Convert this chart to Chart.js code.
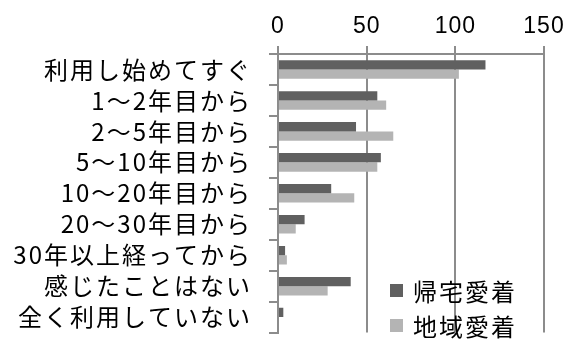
<!DOCTYPE html>
<html lang="ja">
<head>
<meta charset="utf-8">
<title>愛着を感じ始めた時期</title>
<script src="https://cdn.jsdelivr.net/npm/chart.js@4/dist/chart.umd.min.js"></script>
<style>
  html, body { margin: 0; padding: 0; background: #ffffff; }
  #wrap { width: 573px; height: 364px; }
</style>
</head>
<body>
<div id="wrap"><canvas id="chart" width="573" height="364"></canvas></div>
<script>
// Categories: when the attachment started
const categories = [
  '利用し始めてすぐ',
  '1～2年目から',
  '2～5年目から',
  '5～10年目から',
  '10～20年目から',
  '20～30年目から',
  '30年以上経ってから',
  '感じたことはない',
  '全く利用していない'
];

// Series values (respondents)
const homeAttachment = [117, 56, 44, 58, 30, 15, 4, 41, 3];    // 帰宅愛着
const areaAttachment = [102, 61, 65, 56, 43, 10, 5, 28, 0];    // 地域愛着

// Series names and value-axis ticks
const seriesNames = ['帰宅愛着', '地域愛着'];
const valueTicks = [0, 50, 100, 150];

const DARK = '#606060';
const LIGHT = '#b4b4b4';
const GRID = '#8c8c8c';
// Narrow Latin digits, Japanese glyphs from Noto CJK
const JP_FONT = '"Liberation Sans Narrow", "Noto Sans CJK JP", sans-serif';

// Per-axis character spacing for the tick labels
const spacingPlugin = {
  id: 'spacing',
  afterLayout(chart) {
    const spacing = { x: '1px', y: '2px' };
    Object.keys(spacing).forEach(id => {
      const s = chart.scales[id];
      if (!s || s._spaced) return;
      const orig = s.drawLabels.bind(s);
      s.drawLabels = (area) => {
        chart.ctx.letterSpacing = spacing[id];
        orig(area);
        chart.ctx.letterSpacing = '0px';
      };
      s._spaced = true;
    });
  }
};

// Legend drawn inside the plot area, lower right
const innerLegend = {
  id: 'innerLegend',
  afterDraw(chart) {
    const ctx = chart.ctx;
    const x0 = 390;
    const rows = [290.5, 325.5];
    ctx.save();
    ctx.letterSpacing = '2px';
    ctx.font = '24px ' + JP_FONT;
    ctx.textBaseline = 'middle';
    ctx.textAlign = 'left';
    chart.data.datasets.forEach((ds, i) => {
      const cy = rows[i];
      ctx.fillStyle = ds.backgroundColor;
      ctx.fillRect(x0, cy - 6.5, 13, 13);
      ctx.fillStyle = '#000000';
      ctx.fillText(ds.label, x0 + 23, cy + 1);
    });
    ctx.restore();
  }
};

new Chart(document.getElementById('chart'), {
  type: 'bar',
  data: {
    labels: categories,
    datasets: [
      { label: seriesNames[0], data: homeAttachment, backgroundColor: DARK, borderWidth: 0 },
      { label: seriesNames[1], data: areaAttachment, backgroundColor: LIGHT, borderWidth: 0 }
    ]
  },
  options: {
    indexAxis: 'y',
    responsive: false,
    devicePixelRatio: 1,
    animation: false,
    events: [],
    categoryPercentage: 0.6,
    barPercentage: 1.0,
    layout: { padding: { left: 0, right: 29, top: 0, bottom: 1 } },
    plugins: {
      legend: { display: false },
      tooltip: { enabled: false }
    },
    scales: {
      x: {
        position: 'top',
        min: valueTicks[0],
        max: valueTicks[valueTicks.length - 1],
        afterBuildTicks(scale) {
          scale.ticks = valueTicks.map(v => ({ value: v }));
        },
        afterFit(scale) { scale.height = 54; },
        ticks: {
          color: '#000000',
          font: { family: '"Liberation Sans", Arial, sans-serif', size: 23 },
          padding: 6,
          maxRotation: 0
        },
        grid: {
          color: GRID,
          lineWidth: 2,
          tickLength: 8,
          drawOnChartArea: true,
          drawTicks: true
        },
        border: { display: true, color: GRID, width: 2 }
      },
      y: {
        afterFit(scale) { scale.width = 278; },
        ticks: {
          color: '#000000',
          font: { family: JP_FONT, size: 24 },
          padding: 17,
          autoSkip: false
        },
        grid: {
          color: GRID,
          lineWidth: 2,
          tickLength: 9,
          drawOnChartArea: false,
          drawTicks: true,
          offset: true
        },
        border: { display: true, color: GRID, width: 2 }
      }
    }
  },
  plugins: [spacingPlugin, innerLegend]
});
</script>
</body>
</html>
